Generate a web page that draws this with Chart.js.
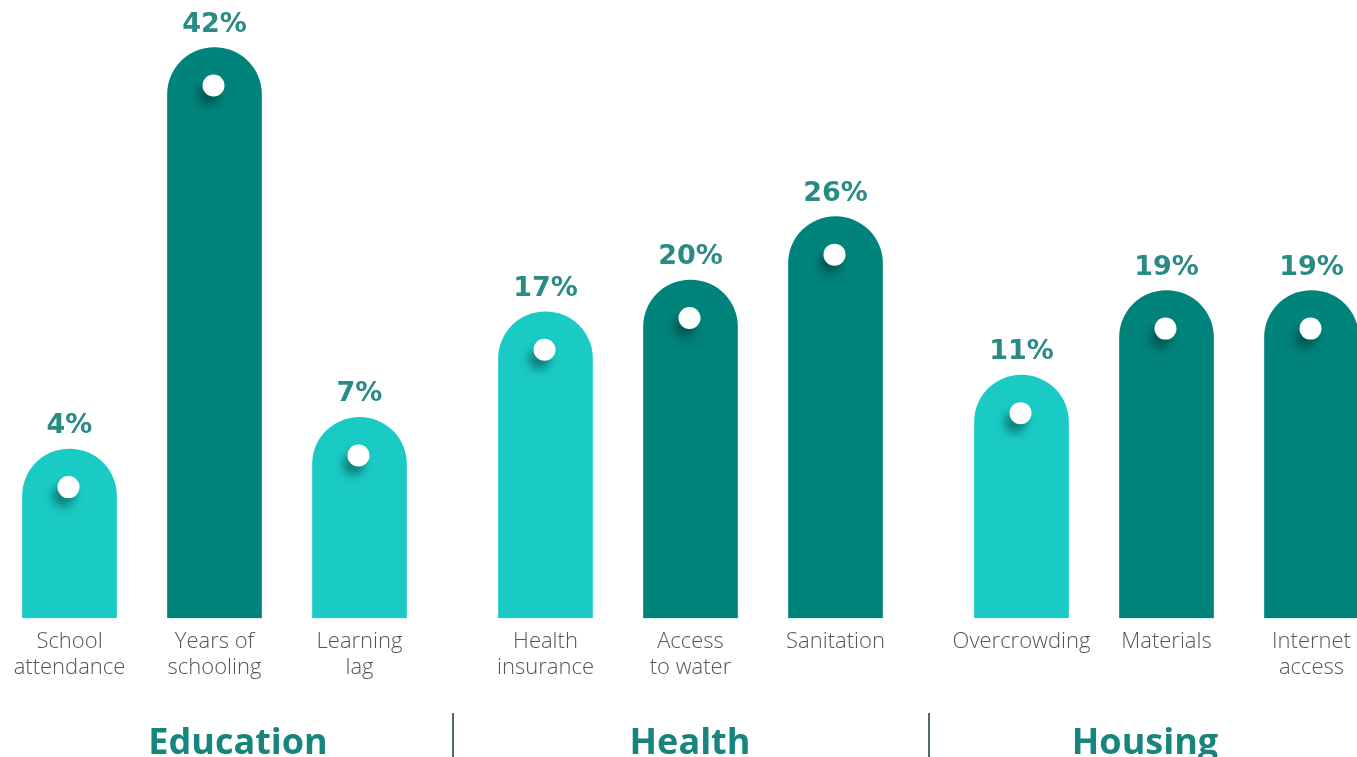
<!DOCTYPE html>
<html>
<head>
<meta charset="utf-8">
<script src="https://cdn.jsdelivr.net/npm/chart.js@4.4.0/dist/chart.umd.min.js"></script>
<style>
  html, body { margin: 0; padding: 0; background: #fff; overflow: hidden; }
  body { width: 1357px; height: 757px; position: relative; }
  #row { position: absolute; left: -3px; top: 0; width: 1400px; display: flex; gap: 41px; }
  .group { position: relative; flex: none; width: 435px; height: 757px; }
  .group + .group::before {
    content: ''; position: absolute; left: -21px; bottom: 0;
    width: 2px; height: 44px; background: #4f6d69;
  }
  .gtitle {
    position: absolute; top: 740px; transform: translate(-50%, -50%);
    font: bold 36px "Open Sans", sans-serif; color: #17857e; white-space: nowrap;
  }
</style>
</head>
<body>
<div id="row">
  <div class="group"><canvas id="g0" width="435" height="757"></canvas></div>
  <div class="group"><canvas id="g1" width="435" height="757"></canvas></div>
  <div class="group"><canvas id="g2" width="435" height="757"></canvas></div>
</div>
<script>
const groupNames = ['Education', 'Health', 'Housing'];
const categories = [
  ['School', 'attendance'], ['Years of', 'schooling'], ['Learning', 'lag'],
  ['Health', 'insurance'], ['Access', 'to water'], ['Sanitation'],
  ['Overcrowding'], ['Materials'], ['Internet', 'access']
];
const shares = [4, 42, 7, 17, 20, 26, 11, 19, 19];
const groupIndex = [0, 0, 0, 1, 1, 1, 2, 2, 2];

const LIGHT = '#19cbc4';
const DARK = '#00837b';
const barColors = [LIGHT, DARK, LIGHT, LIGHT, DARK, DARK, LIGHT, DARK, DARK];
const titleCenters = [238, 690, 1145];

// white pin dot on each bar plus the percentage above it
const pinPlugin = {
  id: 'pins',
  afterDatasetsDraw(chart) {
    const ctx = chart.ctx;
    const values = chart.data.datasets[0].data;
    chart.getDatasetMeta(0).data.forEach((bar, i) => {
      ctx.save();
      ctx.shadowColor = 'rgba(0, 45, 45, 0.45)';
      ctx.shadowBlur = 8;
      ctx.shadowOffsetX = -5;
      ctx.shadowOffsetY = 9;
      ctx.fillStyle = '#fff';
      ctx.beginPath();
      ctx.arc(bar.x - 1, bar.y + 38, 11, 0, Math.PI * 2);
      ctx.fill();
      ctx.restore();

      ctx.save();
      ctx.font = 'bold 27px "DejaVu Sans"';
      ctx.fillStyle = '#2a8b86';
      ctx.textAlign = 'center';
      ctx.textBaseline = 'middle';
      ctx.fillText(values[i] + '%', bar.x, bar.y - 23);
      ctx.restore();
    });
  }
};

function drawGroup(g) {
  const idx = groupIndex.map((k, i) => (k === g ? i : -1)).filter(i => i >= 0);
  new Chart(document.getElementById('g' + g), {
    type: 'bar',
    data: {
      labels: idx.map(i => categories[i]),
      datasets: [{
        data: idx.map(i => shares[i]),
        backgroundColor: idx.map(i => barColors[i]),
        base: -12,
        barThickness: 94,
        borderRadius: { topLeft: 47, topRight: 47 },
        borderSkipped: 'bottom'
      }]
    },
    options: {
      responsive: false,
      animation: false,
      layout: { padding: { top: 0, left: 0, right: 0, bottom: 66 } },
      plugins: { legend: { display: false }, tooltip: { enabled: false } },
      scales: {
        x: {
          grid: { display: false, drawTicks: false },
          border: { display: false },
          ticks: {
            padding: 10,
            color: '#555',
            font: { family: 'Open Sans', size: 22, weight: 300, lineHeight: 1.2 }
          },
          // wide labels may overhang; keep the bar slots evenly spaced
          afterFit(scale) {
            scale.paddingLeft = 0;
            scale.paddingRight = 0;
          }
        },
        y: { display: false, min: -12, max: 46.5 }
      }
    },
    plugins: [pinPlugin]
  });

  const t = document.createElement('div');
  t.className = 'gtitle';
  t.style.left = titleCenters[g] + 'px';
  t.textContent = groupNames[g];
  document.body.appendChild(t);
}

[0, 1, 2].forEach(drawGroup);
</script>
</body>
</html>
